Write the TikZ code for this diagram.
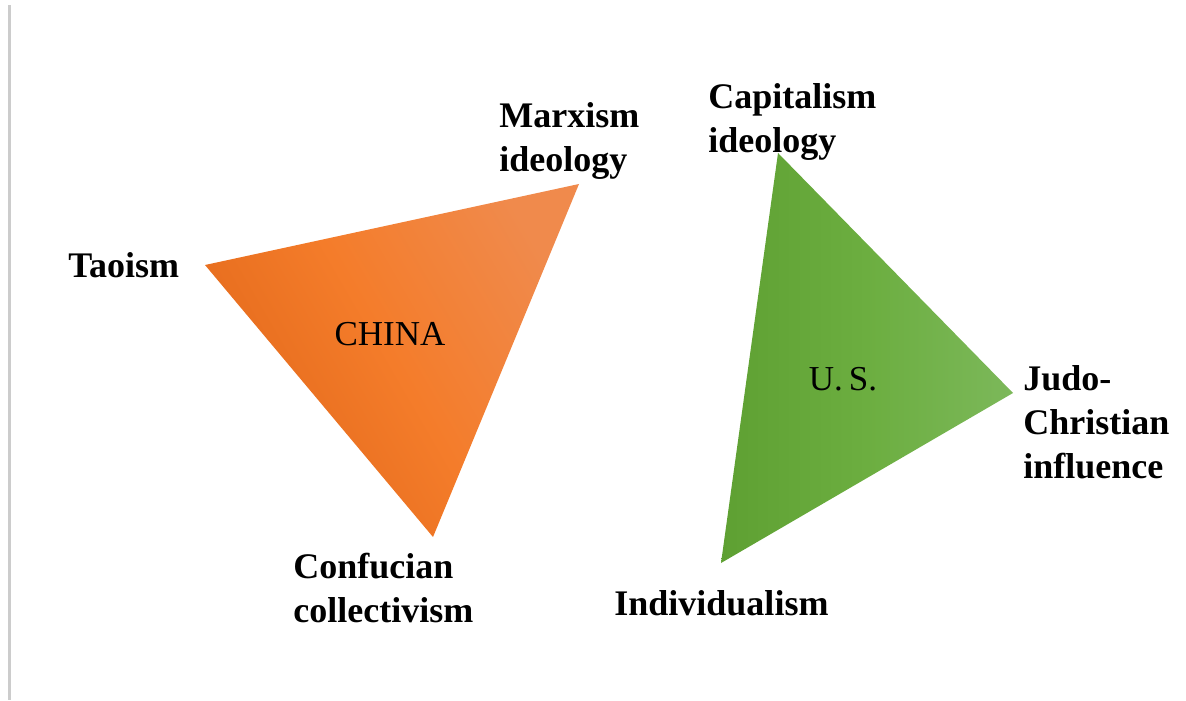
\documentclass[tikz,border=0pt]{standalone}
\usepackage{fontspec}
\setmainfont{Liberation Serif}
\begin{document}
\begin{tikzpicture}[x=0.5pt,y=-0.5pt,
  lbl/.style={font=\fontsize{18}{22}\selectfont\bfseries, align=left, inner sep=0pt, anchor=west},
  ctr/.style={font=\fontsize{17.5}{21.5}\selectfont, inner sep=0pt}]
  \useasboundingbox (0,0) rectangle (1186,700);
  % left page rule
  \fill[black!20] (8,5) rectangle (11,700);

  % China triangle
  \coordinate (cT) at (205,265);
  \coordinate (cM) at (579,184);
  \coordinate (cC) at (433,537);
  \shade[top color={rgb,255:red,240;green,138;blue,76}, bottom color={rgb,255:red,226;green,104;blue,26}, middle color={rgb,255:red,244;green,124;blue,42}, shading angle=-60]
    (cT) -- (cM) -- (cC) -- cycle;

  % U.S. triangle
  \coordinate (uC) at (778,153);
  \coordinate (uJ) at (1013,393);
  \coordinate (uI) at (721,563);
  \shade[top color={rgb,255:red,124;green,184;blue,90}, bottom color={rgb,255:red,94;green,160;blue,50}, middle color={rgb,255:red,108;green,174;blue,64}, shading angle=-90]
    (uC) -- (uJ) -- (uI) -- cycle;

  % centre names
  \node[ctr] (china) at (390,334) {CHINA};
  \node[ctr] (us) at (843,379) {U.\,S.};

  % corner labels
  \node[lbl] (marx) at (499,141) {Marxism\\ideology};
  \node[lbl] (tao) at (68,265) {Taoism};
  \node[lbl] (conf) at (293,588) {Confucian\\collectivism};
  \node[lbl] (cap) at (708,122) {Capitalism\\ideology};
  \node[lbl] (judo) at (1023,422) {Judo-\\Christian\\influence};
  \node[lbl] (ind) at (614,603) {Individualism};
\end{tikzpicture}
\end{document}
